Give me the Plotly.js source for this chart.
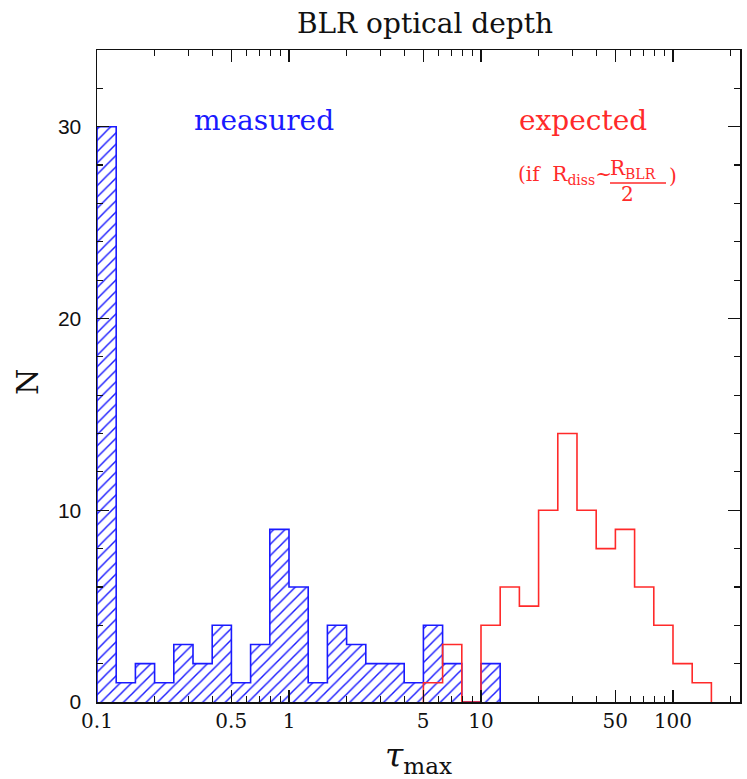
<!DOCTYPE html>
<html>
<head>
<meta charset="utf-8">
<script src="https://cdn.plot.ly/plotly-3.0.1.min.js"></script>
<style>html,body{margin:0;padding:0;background:#fff;}#chart{width:747px;height:779px;}</style>
</head>
<body>
<div id="chart"></div>
<script>
// ---- data ----
const binWidthDex = 0.1;              // histogram bin width in log10(tau_max)
const measuredStartLog = -1.0;        // first bin lower edge, log10
const measuredCounts = [30,1,2,1,3,2,4,1,3,9,6,1,4,3,2,2,1,4,2,0,2];
const expectedStartLog = 0.7;
const expectedCounts = [1,3,0,4,6,5,10,14,10,8,9,6,4,2,1];
const xTickVals = [0.1,0.5,1,5,10,50,100];
const xTickText = ["0.1","0.5","1","5","10","50","100"];
const xMinorVals = [0.2,0.3,0.4,0.6,0.7,0.8,0.9,2,3,4,6,7,8,9,20,30,40,60,70,80,90,200];
const yTickVals = [0,10,20,30];

function stepXY(startLog, counts){
  const xs = [], ys = [];
  const edge = i => Math.pow(10, +(startLog + i*binWidthDex).toFixed(4));
  xs.push(edge(0)); ys.push(0);
  for (let i=0;i<counts.length;i++){ xs.push(edge(i)); ys.push(counts[i]); }
  xs.push(edge(counts.length)); ys.push(0);
  return {xs, ys};
}
const m = stepXY(measuredStartLog, measuredCounts);
const e = stepXY(expectedStartLog, expectedCounts);

const traces = [
  {x:m.xs, y:m.ys, type:'scatter', mode:'lines', line:{shape:'hv', color:'#1a1aff', width:1.6},
   fill:'tozeroy', fillcolor:'rgba(0,0,0,0)',
   fillpattern:{shape:'/', fgcolor:'#1a1aff', bgcolor:'rgba(0,0,0,0)', size:8, solidity:0.18},
   name:'measured', hoverinfo:'skip'},
  {x:e.xs, y:e.ys, type:'scatter', mode:'lines', line:{shape:'hv', color:'#ff2a2a', width:1.6},
   name:'expected', hoverinfo:'skip'}
];

// pixel -> paper helpers for the plot area (left 97, right 740, top 50, bottom 702)
const L=97, R=740, T=50, B=702;
const px = v => (v-L)/(R-L);
const py = v => (B-v)/(B-T);

const serif = 'DejaVu Serif';
const layout = {
  width:747, height:779,
  margin:{l:L, r:747-R, t:T, b:779-B},
  paper_bgcolor:'#fff', plot_bgcolor:'#fff',
  showlegend:false,
  title:{text:'BLR optical depth', font:{family:serif, size:28, color:'#111'},
         x:px(425), xref:'paper', xanchor:'center', y:1-23/779, yref:'container', yanchor:'middle'},
  xaxis:{type:'log', range:[-1, 2.349], showgrid:false, zeroline:false,
         showline:true, linecolor:'#111', linewidth:1.5, mirror:'allticks',
         ticks:'inside', ticklen:12, tickwidth:1.2, tickcolor:'#111',
         tickmode:'array', tickvals:xTickVals, ticktext:xTickText,
         tickfont:{family:serif, size:20, color:'#111'}, ticklabelstandoff:0,
         minor:{tickvals:xMinorVals, ticks:'inside', ticklen:6, tickwidth:1.2, tickcolor:'#111', showgrid:false},
         title:{text:'<i>τ</i><sub>max</sub>', font:{family:serif, size:33, color:'#111'}, standoff:18}},
  yaxis:{range:[0,34], showgrid:false, zeroline:false,
         showline:true, linecolor:'#111', linewidth:1.5, mirror:'allticks',
         ticks:'inside', ticklen:12, tickwidth:1.2, tickcolor:'#111',
         tickmode:'array', tickvals:yTickVals,
         tickfont:{family:'Liberation Sans', size:21, color:'#111'}, ticklabelstandoff:10,
         minor:{dtick:2, ticks:'inside', ticklen:6, tickwidth:1.2, tickcolor:'#111', showgrid:false}},
  annotations:[
    {text:'N', xref:'paper', yref:'paper', x:px(28), y:py(382), xanchor:'center', yanchor:'middle',
     textangle:-90, showarrow:false, font:{family:serif, size:30, color:'#111'}},
    {text:'measured', xref:'paper', yref:'paper', x:px(264), y:py(120), xanchor:'center', yanchor:'middle',
     showarrow:false, font:{family:serif, size:28, color:'#1a1aff'}},
    {text:'expected', xref:'paper', yref:'paper', x:px(583), y:py(120), xanchor:'center', yanchor:'middle',
     showarrow:false, font:{family:serif, size:28, color:'#ff2a2a'}},
    {text:'(if  R<sub>diss</sub>~', xref:'paper', yref:'paper', x:px(516), y:py(175), xanchor:'left', yanchor:'middle',
     showarrow:false, font:{family:serif, size:20, color:'#ff2a2a'}},
    {text:'R<sub>BLR</sub>', xref:'paper', yref:'paper', x:px(608), y:py(169), xanchor:'left', yanchor:'middle',
     showarrow:false, font:{family:serif, size:20, color:'#ff2a2a'}},
    {text:'2', xref:'paper', yref:'paper', x:px(627), y:py(194), xanchor:'center', yanchor:'middle',
     showarrow:false, font:{family:serif, size:20, color:'#ff2a2a'}},
    {text:')', xref:'paper', yref:'paper', x:px(667), y:py(176), xanchor:'left', yanchor:'middle',
     showarrow:false, font:{family:serif, size:20, color:'#ff2a2a'}}
  ],
  shapes:[
    {type:'line', xref:'paper', yref:'paper', x0:px(610), x1:px(666), y0:py(183), y1:py(183),
     line:{color:'#ff2a2a', width:1.3}}
  ]
};

Plotly.newPlot('chart', traces, layout, {displayModeBar:false, staticPlot:true});
</script>
</body>
</html>
